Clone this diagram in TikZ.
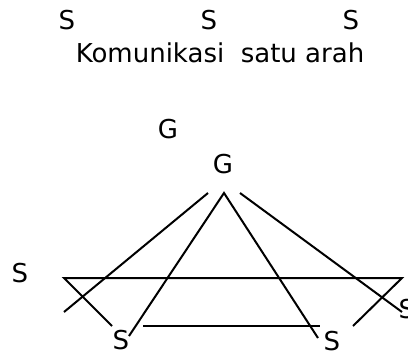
\documentclass[tikz,border=0pt]{standalone}
\usepackage{fontspec}
\setmainfont{DejaVu Sans}
\usepackage{tikz}
\usetikzlibrary{positioning,calc}

\tikzset{
  lbl/.style={inner sep=0pt, font=\fontsize{13}{15}\selectfont},
  ln/.style={line width=1pt, black}
}

\begin{document}
\begin{tikzpicture}[x=0.5pt, y=-0.5pt]
    \useasboundingbox (0,0) rectangle (408,354);

    % Top row of senders
    \node[lbl] (S1) at (67, 20) {S};
    \node[lbl] (S2) at (209, 20) {S};
    \node[lbl] (S3) at (351, 20) {S};
    \node[lbl] (title) at (220, 53) {Komunikasi\ \ satu arah};

    % Groups
    \node[lbl] (G1) at (168, 129) {G};
    \node[lbl] (G2) at (223, 164) {G};

    % Lower senders
    \node[lbl] (SL) at (20, 273) {S};
    \node[lbl] (SB1) at (121, 340) {S};
    \node[lbl] (SB2) at (332, 341) {S};
    \node[lbl] (SR) at (407, 309) {S};

    % Line end points
    \coordinate (apex) at (224, 193);
    \coordinate (TL) at (64, 278);
    \coordinate (TR) at (402, 278);

    % Lines from the group
    \draw[ln] (208, 193) -- (64, 312);
    \draw[ln] (129, 336) -- (apex) -- (318, 338);
    \draw[ln] (240, 193) -- (402, 312);

    % Trapezoid of senders
    \draw[ln] (112, 326) -- (TL) -- (TR) -- (353, 326);
    \draw[ln] (143, 326) -- (320, 326);
\end{tikzpicture}
\end{document}
